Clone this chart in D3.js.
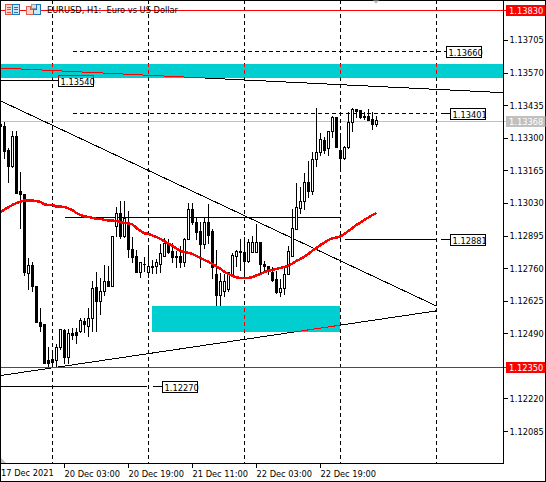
<!DOCTYPE html>
<html><head><meta charset="utf-8">
<script src="https://cdn.jsdelivr.net/npm/d3@7"></script>
<style>html,body{margin:0;padding:0;background:#fff}svg{display:block}svg text{font-family:"DejaVu Sans Condensed","DejaVu Sans",sans-serif!important;font-stretch:condensed;font-size:9.2px!important;fill:#000;white-space:pre}</style>
</head><body><div id="c"></div>
<script>
const opens=[1.13359,1.13347,1.13251,1.13181,1.13309,1.13078,1.13069,1.12738,1.12771,1.12684,1.12535,1.12527,1.12378,1.12382,1.12378,1.12435,1.12502,1.12390,1.12490,1.12494,1.12498,1.12543,1.12522,1.12555,1.12680,1.12622,1.12667,1.12705,1.12684,1.12933,1.12990,1.12891,1.12949,1.12841,1.12812,1.12742,1.12779,1.12742,1.12767,1.12767,1.12779,1.12812,1.12858,1.12829,1.12812,1.12812,1.12784,1.12879,1.13003,1.12953,1.12912,1.12858,1.12949,1.12912,1.12734,1.12647,1.12667,1.12672,1.12734,1.12812,1.12829,1.12825,1.12788,1.12825,1.12825,1.12870,1.12775,1.12767,1.12742,1.12713,1.12663,1.12676,1.12734,1.12812,1.12924,1.13011,1.13040,1.13115,1.13078,1.13210,1.13243,1.13289,1.13256,1.13326,1.13384,1.13251,1.13218,1.13260,1.13367,1.13421,1.13413,1.13392,1.13392,1.13376,1.13359];
const highs=[1.13384,1.13367,1.13256,1.13330,1.13330,1.13160,1.13069,1.12800,1.12784,1.12684,1.12593,1.12527,1.12435,1.12411,1.12444,1.12506,1.12506,1.12506,1.12510,1.12510,1.12555,1.12555,1.12593,1.12705,1.12742,1.12717,1.12771,1.12767,1.12891,1.13015,1.13040,1.13040,1.12995,1.12887,1.12837,1.12784,1.12804,1.12845,1.12792,1.12796,1.12858,1.12883,1.12879,1.12866,1.12829,1.12850,1.12883,1.13028,1.13028,1.12970,1.12953,1.12970,1.13024,1.12924,1.12837,1.12738,1.12734,1.12742,1.12821,1.12833,1.12879,1.12887,1.12879,1.12891,1.12941,1.12870,1.12788,1.12767,1.12763,1.12746,1.12713,1.12763,1.12850,1.13003,1.13111,1.13098,1.13152,1.13202,1.13239,1.13425,1.13318,1.13305,1.13330,1.13392,1.13384,1.13305,1.13264,1.13405,1.13425,1.13421,1.13413,1.13405,1.13421,1.13405,1.13392];
const lows=[1.13347,1.13218,1.13115,1.13177,1.13073,1.12928,1.12730,1.12672,1.12667,1.12535,1.12498,1.12365,1.12353,1.12353,1.12349,1.12427,1.12369,1.12369,1.12465,1.12448,1.12494,1.12494,1.12477,1.12498,1.12498,1.12572,1.12647,1.12684,1.12684,1.12891,1.12883,1.12887,1.12804,1.12784,1.12742,1.12725,1.12746,1.12725,1.12738,1.12738,1.12742,1.12812,1.12821,1.12784,1.12763,1.12763,1.12767,1.12879,1.12941,1.12879,1.12763,1.12845,1.12866,1.12721,1.12609,1.12609,1.12643,1.12667,1.12730,1.12767,1.12754,1.12734,1.12784,1.12825,1.12825,1.12742,1.12754,1.12734,1.12705,1.12659,1.12643,1.12651,1.12734,1.12812,1.12920,1.12990,1.13003,1.13053,1.13065,1.13185,1.13227,1.13235,1.13227,1.13305,1.13260,1.13164,1.13214,1.13256,1.13330,1.13384,1.13380,1.13376,1.13372,1.13338,1.13347];
const closes=[1.13347,1.13247,1.13181,1.13309,1.13073,1.13065,1.12742,1.12771,1.12684,1.12535,1.12522,1.12369,1.12369,1.12373,1.12435,1.12506,1.12390,1.12490,1.12485,1.12485,1.12547,1.12527,1.12555,1.12676,1.12622,1.12667,1.12705,1.12684,1.12891,1.12990,1.12891,1.12966,1.12841,1.12808,1.12742,1.12784,1.12775,1.12767,1.12763,1.12784,1.12821,1.12862,1.12825,1.12804,1.12804,1.12784,1.12879,1.13003,1.12949,1.12908,1.12858,1.12949,1.12899,1.12763,1.12647,1.12705,1.12705,1.12742,1.12816,1.12829,1.12825,1.12788,1.12870,1.12870,1.12870,1.12775,1.12767,1.12746,1.12709,1.12663,1.12676,1.12734,1.12829,1.12928,1.13015,1.13040,1.13115,1.13078,1.13210,1.13243,1.13293,1.13251,1.13326,1.13384,1.13260,1.13218,1.13260,1.13367,1.13421,1.13409,1.13388,1.13388,1.13372,1.13359,1.13372];
const movingAverage=[1.12995,1.13005,1.13015,1.13024,1.13032,1.13038,1.13042,1.13042,1.13042,1.13040,1.13036,1.13026,1.13024,1.13024,1.13017,1.13017,1.13015,1.13009,1.13003,1.12990,1.12982,1.12976,1.12974,1.12970,1.12966,1.12966,1.12962,1.12959,1.12959,1.12957,1.12953,1.12949,1.12947,1.12943,1.12928,1.12916,1.12906,1.12904,1.12897,1.12891,1.12883,1.12873,1.12864,1.12854,1.12844,1.12833,1.12829,1.12825,1.12821,1.12812,1.12804,1.12796,1.12788,1.12779,1.12769,1.12759,1.12746,1.12738,1.12730,1.12724,1.12721,1.12721,1.12721,1.12725,1.12732,1.12738,1.12746,1.12752,1.12754,1.12759,1.12763,1.12767,1.12773,1.12781,1.12792,1.12800,1.12810,1.12821,1.12835,1.12845,1.12858,1.12868,1.12879,1.12885,1.12889,1.12893,1.12904,1.12916,1.12928,1.12941,1.12951,1.12962,1.12972,1.12982,1.12990];

const priceTicks=[1.13705,1.13570,1.13435,1.13300,1.13165,1.13030,1.12895,1.12760,1.12625,1.12490,1.12220,1.12085];
const timeTickBars=[16,32,48,64,80];
const timeTickLabels=["20 Dec 03:00","20 Dec 19:00","21 Dec 11:00","22 Dec 03:00","22 Dec 19:00"];
const firstTimeLabel="17 Dec 2021";
const separatorBars=[13,37,61,85,109];
const title="EURUSD, H1:  Euro vs US Dollar";

const alertLevels=[1.13830,1.12350];
const bidLevel=1.13368;

const zoneTops=[1.13608,1.12605];
const zoneBottoms=[1.13550,1.12498];
const zoneStarts=[-2,38];
const zoneEnds=[127,85];

const trendBarA=[0,0,0];
const trendPriceA=[1.13591,1.13455,1.12317];
const trendBarB=[125.6,109,109];
const trendPriceB=[1.13489,1.12605,1.12585];

const solidPrices=[1.13540,1.12970,1.12881,1.12881,1.12270,1.12270,1.13401];
const solidFrom=[0,16,86,110,0,38,110];
const solidTo=[14.4,85,109,112.4,36.6,40.4,112.4];
const dashedPrices=[1.13660,1.13401];
const dashedFrom=[18,18];
const dashedTo=[111.4,109];

const tagPrices=[1.13660,1.13540,1.13401,1.12881,1.12270];
const tagBars=[111.4,14.4,112.4,112.4,40.4];

const W=546,H=482,plotR=503,plotB=463;
const x=d3.scaleLinear().domain([0,1]).range([0.5,4.5]);
const y=d3.scaleLinear().domain([1.1383,1.1235]).range([10.3,367.6]);
const py=p=>Math.floor(y(p))+0.5;
const bars=d3.range(closes.length);

const svg=d3.select("#c").append("svg").attr("width",W).attr("height",H);
svg.append("rect").attr("width",W).attr("height",H).attr("fill","#fff");
const defs=svg.append("defs");
defs.append("clipPath").attr("id","plot").append("rect").attr("x",0).attr("y",0).attr("width",plotR).attr("height",plotB);
const zoneIdx=d3.range(zoneTops.length);
const zL=i=>Math.max(0,Math.floor(x(zoneStarts[i])));
const zR=i=>Math.min(plotR,Math.floor(x(zoneEnds[i])));
const zT=i=>Math.round(y(zoneTops[i]));
const zB=i=>Math.round(y(zoneBottoms[i]));
const zc=defs.append("clipPath").attr("id","zones");
const zoneRect=s=>s.attr("x",zL).attr("y",zT).attr("width",i=>zR(i)-zL(i)).attr("height",i=>zB(i)-zT(i));
zc.selectAll("rect").data(zoneIdx).join("rect").call(zoneRect);
defs.append("clipPath").attr("id","outside").append("path").attr("clip-rule","evenodd")
  .attr("d",`M0,0H${plotR}V${plotB}H0Z`+zoneIdx.map(i=>`M${zL(i)},${zT(i)}H${zR(i)}V${zB(i)}H${zL(i)}Z`).join(""));

const plot=svg.append("g").attr("clip-path","url(#plot)");
plot.append("g").selectAll("rect").data(zoneIdx).join("rect").call(zoneRect).attr("fill","#00ced1");

function objects(g,col){
  g.attr("stroke",col).attr("fill","none").attr("shape-rendering","crispEdges");
  g.append("g").selectAll("line").data(separatorBars).join("line")
    .attr("x1",d=>x(d)).attr("x2",d=>x(d)).attr("y1",0).attr("y2",plotB).attr("stroke-dasharray","4,3");
  g.append("g").selectAll("line").data(d3.range(trendBarA.length)).join("line")
    .attr("x1",i=>x(trendBarA[i])).attr("x2",i=>x(trendBarB[i]))
    .attr("y1",i=>y(trendPriceA[i])).attr("y2",i=>y(trendPriceB[i]));
  g.append("g").selectAll("line").data(d3.range(solidPrices.length)).join("line")
    .attr("x1",i=>x(solidFrom[i])).attr("x2",i=>x(solidTo[i]))
    .attr("y1",i=>py(solidPrices[i])).attr("y2",i=>py(solidPrices[i]));
  g.append("g").selectAll("line").data(d3.range(dashedPrices.length)).join("line")
    .attr("x1",i=>x(dashedFrom[i])).attr("x2",i=>x(dashedTo[i]))
    .attr("y1",i=>py(dashedPrices[i])).attr("y2",i=>py(dashedPrices[i])).attr("stroke-dasharray","4,3");
}
plot.append("line").attr("x1",0).attr("x2",plotR).attr("y1",py(bidLevel)).attr("y2",py(bidLevel))
  .attr("stroke","#c0c0c0").attr("shape-rendering","crispEdges");
objects(plot.append("g").attr("clip-path","url(#outside)"),"#000");
objects(plot.append("g").attr("clip-path","url(#zones)"),"#ff0000");

const cg=plot.append("g").attr("shape-rendering","crispEdges");
cg.selectAll("line").data(bars).join("line")
  .attr("x1",k=>x(k)).attr("x2",k=>x(k))
  .attr("y1",k=>Math.floor(y(highs[k]))).attr("y2",k=>Math.floor(y(lows[k]))+1).attr("stroke","#000");
const bodyT=k=>Math.floor(y(Math.max(opens[k],closes[k])));
const bodyB=k=>Math.floor(y(Math.min(opens[k],closes[k])))+1;
cg.append("g").selectAll("rect").data(bars).join("rect")
  .attr("x",k=>x(k)-1.5).attr("width",3).attr("y",bodyT).attr("height",k=>bodyB(k)-bodyT(k)).attr("fill","#000");
cg.append("g").selectAll("rect").data(bars.filter(k=>closes[k]>opens[k]&&bodyB(k)-bodyT(k)>2)).join("rect")
  .attr("x",k=>x(k)-0.5).attr("width",1).attr("y",k=>bodyT(k)+1).attr("height",k=>bodyB(k)-bodyT(k)-2).attr("fill","#fff");

plot.append("path").datum(bars).attr("fill","none").attr("stroke","#ff0000").attr("stroke-width",2.5)
  .attr("shape-rendering","crispEdges").attr("stroke-linejoin","round")
  .attr("d",d3.line().x(k=>x(k)).y(k=>y(movingAverage[k])));

plot.append("g").selectAll("line").data(alertLevels).join("line")
  .attr("x1",0).attr("x2",plotR).attr("y1",py).attr("y2",py).attr("stroke","#ff0000").attr("shape-rendering","crispEdges");

const tagW=35,tagH=11;
const tags=svg.append("g");
tagPrices.forEach((p,i)=>{
  const bx=Math.round(x(tagBars[i]))+0.5, by=py(p)-5.5;
  tags.append("rect").attr("x",bx).attr("y",by).attr("width",tagW).attr("height",tagH)
    .attr("fill","#fff").attr("stroke","#000").attr("shape-rendering","crispEdges");
  const over=tags.append("g").attr("clip-path","url(#zones)");
  over.append("rect").attr("x",bx).attr("y",by).attr("width",tagW).attr("height",tagH)
    .attr("fill","#00ced1").attr("stroke","#ff0000").attr("shape-rendering","crispEdges");
  tags.append("text").attr("x",bx+2).attr("y",by+9.5).text(p.toFixed(5));
});

const frame=svg.append("g").attr("shape-rendering","crispEdges").attr("stroke","#000");
frame.append("line").attr("x1",0.5).attr("x2",0.5).attr("y1",0).attr("y2",H);
frame.append("line").attr("x1",0).attr("x2",W).attr("y1",0.5).attr("y2",0.5);
frame.append("line").attr("x1",0).attr("x2",W).attr("y1",481.5).attr("y2",481.5);
frame.append("line").attr("x1",545.5).attr("x2",545.5).attr("y1",0).attr("y2",H);

const ay=d3.axisRight(y).tickValues(priceTicks).tickFormat(d3.format(".5f")).tickSize(4).tickPadding(2).offset(0);
const gy=svg.append("g").attr("transform",`translate(${plotR+0.5},0)`).call(ay);
gy.select(".domain").remove();
gy.selectAll("line").attr("shape-rendering","crispEdges").attr("stroke","#000");
svg.append("line").attr("x1",plotR+0.5).attr("x2",plotR+0.5).attr("y1",0).attr("y2",plotB+1).attr("stroke","#000").attr("shape-rendering","crispEdges");

const ax=d3.axisBottom(x).tickValues(timeTickBars).tickFormat((d,i)=>timeTickLabels[i]).tickSize(4).tickPadding(3).offset(0);
const gx=svg.append("g").attr("transform",`translate(0,${plotB+0.5})`).call(ax);
gx.select(".domain").remove();
gx.selectAll("line").attr("shape-rendering","crispEdges").attr("stroke","#000");
gx.selectAll("text").attr("text-anchor","start").attr("dy",null).attr("y",13);
svg.append("line").attr("x1",0).attr("x2",plotR+1).attr("y1",plotB+0.5).attr("y2",plotB+0.5).attr("stroke","#000").attr("shape-rendering","crispEdges");
svg.append("text").attr("x",1).attr("y",plotB+13).text(firstTimeLabel);

const levelTags=[[alertLevels[0],"#ff0000"],[alertLevels[1],"#ff0000"],[bidLevel,"#c0c0c0"]];
levelTags.forEach(([p,c])=>{
  const cy=py(p);
  svg.append("path").attr("d",`M${plotR+0.5},${cy}H${plotR+4}`).attr("stroke",c).attr("shape-rendering","crispEdges");
  svg.append("rect").attr("x",506).attr("y",cy-5.5).attr("width",39.5).attr("height",11).attr("fill",c);
  svg.append("text").attr("x",509).attr("y",cy+3.8).style("fill","#fff").text(p.toFixed(5));
});

const ic=svg.append("g").attr("shape-rendering","crispEdges");
ic.append("rect").attr("x",5.5).attr("y",4.5).attr("width",7).attr("height",10).attr("fill","#fbd3c8").attr("stroke","#e8533f");
ic.append("rect").attr("x",12.5).attr("y",4.5).attr("width",7).attr("height",10).attr("fill","#cfe6f7").attr("stroke","#1f77b4");
[7,9.5,12].forEach(v=>{ic.append("line").attr("x1",7).attr("x2",11).attr("y1",v).attr("y2",v).attr("stroke","#e8533f");
  ic.append("line").attr("x1",14).attr("x2",18).attr("y1",v).attr("y2",v).attr("stroke","#1f77b4");});
ic.append("rect").attr("x",31.5).attr("y",4.5).attr("width",6).attr("height",4).attr("fill","#ddd").attr("stroke","#999");
ic.append("path").attr("d","M26.5,6.5H30.5V9.5H33V14.5H26.5Z").attr("fill","#fbd3c8").attr("stroke","#d9634f");
ic.append("path").attr("d","M33.5,9.5H36V4.5H40.5V14.5H33.5Z").attr("fill","#cfe6f7").attr("stroke","#1f77b4");
svg.append("text").attr("x",47).attr("y",13).text(title);
svg.append("path").attr("d","M373,0.5H379L376,4Z").attr("fill","#c0c0c0");
svg.append("path").attr("d","M1,458L6,463H1Z").attr("fill","#c0c0c0");
</script></body></html>
